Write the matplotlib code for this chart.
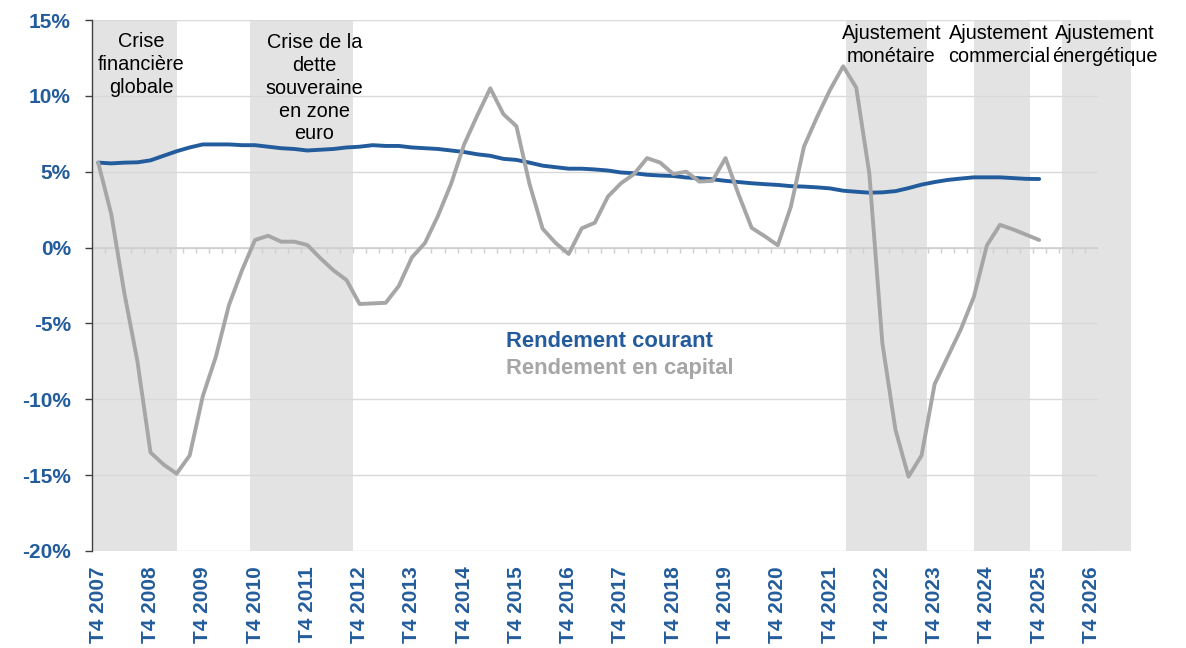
import numpy as np
import matplotlib.pyplot as plt
from matplotlib.patches import Rectangle

plt.rcParams['font.family'] = ['Liberation Sans', 'DejaVu Sans']

# --- données (trimestres depuis T4 2007) ---
annees = list(range(2007, 2027))
etiquettes = [f"T4 {a}" for a in annees]

rendement_courant = [5.60, 5.55, 5.60, 5.62, 5.75, 6.05, 6.35, 6.60, 6.80, 6.80,
                     6.80, 6.75, 6.75, 6.65, 6.55, 6.50, 6.40, 6.45, 6.50, 6.60,
                     6.65, 6.75, 6.70, 6.70, 6.60, 6.55, 6.50, 6.40, 6.30, 6.15,
                     6.05, 5.85, 5.78, 5.60, 5.40, 5.30, 5.20, 5.20, 5.15, 5.08,
                     4.95, 4.90, 4.80, 4.75, 4.72, 4.62, 4.57, 4.50, 4.40, 4.32,
                     4.24, 4.18, 4.13, 4.05, 4.02, 3.97, 3.90, 3.75, 3.68, 3.62,
                     3.64, 3.72, 3.92, 4.15, 4.32, 4.46, 4.55, 4.63, 4.63, 4.63,
                     4.58, 4.53, 4.52]

rendement_capital = [5.6, 2.2, -3.0, -7.5, -13.5, -14.3, -14.9, -13.7, -9.8, -7.2,
                     -3.8, -1.5, 0.5, 0.78, 0.39, 0.39, 0.17, -0.7, -1.5, -2.14,
                     -3.72, -3.68, -3.64, -2.53, -0.65, 0.3, 2.1, 4.2, 6.8, 8.7,
                     10.5, 8.8, 8.0, 4.2, 1.25, 0.3, -0.42, 1.27, 1.64, 3.36,
                     4.24, 4.85, 5.9, 5.6, 4.85, 5.0, 4.35, 4.4, 5.9, 3.5,
                     1.3, 0.75, 0.15, 2.7, 6.65, 8.6, 10.4, 11.95, 10.55, 4.9,
                     -6.3, -12.0, -15.1, -13.7, -9.0, -7.2, -5.4, -3.25, 0.15, 1.5,
                     1.2, 0.85, 0.5]

# périodes grisées
periodes_debut = [-0.5, 11.64, 57.18, 67.03, 73.72]
periodes_fin = [6.06, 19.47, 63.39, 71.28, 78.99]
periodes_noms = ["Crise\nfinancière\nglobale",
                 "Crise de la\ndette\nsouveraine\nen zone\neuro",
                 "Ajustement\nmonétaire",
                 "Ajustement\ncommercial",
                 "Ajustement\nénergétique"]

BLEU = '#235C9C'
GRIS = '#A6A6A6'
FOND = '#E3E3E3'
GRILLE = '#D9D9D9'

fig = plt.figure(figsize=(11.86, 6.48), dpi=100)
ax = fig.add_axes([0.0773, 0.1497, 0.8485, 0.8194])

n = len(etiquettes) * 4 - 3  # 77 trimestres
x = np.arange(len(rendement_courant))

# bandes de fond
for d, f in zip(periodes_debut, periodes_fin):
    ax.add_patch(Rectangle((d, -20), f - d, 35, fc=FOND, ec='none',
                           zorder=0, clip_on=False))

# textes des périodes
pos_txt = [(3.3, 14.2), (16.55, 14.12), (60.7, 14.75), (68.9, 14.75), (77.0, 14.75)]
for (px, py), nom in zip(pos_txt, periodes_noms):
    ax.text(px, py, nom, ha='center', va='top', fontsize=14.3, color='black',
            linespacing=1.25, clip_on=False)

# axe des catégories à 0
ax.axhline(0, color='#CFCFCF', lw=1.2, zorder=1)
ax.vlines(np.arange(-0.5, n, 1), -0.38, 0, color='#CFCFCF', lw=1, zorder=1)

ax.plot(x, rendement_courant, color=BLEU, lw=2.8, solid_capstyle='round', zorder=3)
ax.plot(x, rendement_capital, color=GRIS, lw=2.8, solid_capstyle='round', zorder=4)

ax.text(31.2, -6.57, "Rendement courant", color=BLEU, fontsize=15.8,
        fontweight='bold', va='baseline')
ax.text(31.2, -8.35, "Rendement en capital", color=GRIS, fontsize=15.8,
        fontweight='bold', va='baseline')

ax.set_xlim(-0.5, n - 0.5)
ax.set_ylim(-20, 15)

ax.set_xticks(range(0, n, 4))
ax.set_xticklabels(etiquettes, rotation=90, fontsize=15, fontweight='bold', color=BLEU)
ax.tick_params(axis='x', length=0, pad=11)

yt = list(range(-20, 16, 5))
ax.set_yticks(yt)
ax.set_yticklabels([f"{v}%" for v in yt], fontsize=15, fontweight='bold', color=BLEU)
ax.tick_params(axis='y', direction='out', length=5, width=1, color='#404040', pad=10)

ax.yaxis.grid(True, color=GRILLE, lw=1)
ax.set_axisbelow(True)
for s in ['top', 'right', 'bottom']:
    ax.spines[s].set_visible(False)
ax.spines['left'].set_color('#404040')
ax.spines['left'].set_linewidth(1)

fig.savefig('out.png', dpi=100)
